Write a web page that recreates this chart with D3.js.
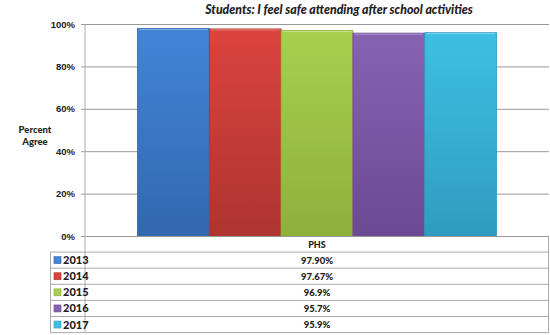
<!DOCTYPE html>
<html>
<head>
<meta charset="utf-8">
<script src="https://cdn.jsdelivr.net/npm/d3@7"></script>
<style>
  body { margin: 0; background: #fff; }
  svg { display: block; font-family: Lato, "Open Sans", sans-serif; }
  .tick text { font-weight: 900; font-size: 9.5px; fill: #222; }
</style>
</head>
<body>
<svg id="chart" width="550" height="335"></svg>
<script>
// Chart data
let category = "PHS";
let years = ["2013", "2014", "2015", "2016", "2017"];
let values = [97.90, 97.67, 96.9, 95.7, 95.9];
let valueLabels = ["97.90%", "97.67%", "96.9%", "95.7%", "95.9%"];
let yTicks = [0, 20, 40, 60, 80, 100];
let topColors = ["#4285d8", "#dc433e", "#a8d04e", "#8762b3", "#3fbfe4"];
let bottomColors = ["#3367ae", "#ad3430", "#8eb03c", "#6c4993", "#2f9cbf"];

// Layout
let width = 550, height = 335;
let margin = { top: 24, right: 1, left: 85 };
let plotBottom = 236;
let tableLeft = 50, rowH = 16.1;

let svg = d3.select("#chart");

let y = d3.scaleLinear().domain([0, 100]).range([plotBottom, margin.top]);
let xBand = d3.scaleBand().domain([category]).range([margin.left, width - margin.right]).paddingInner(0).paddingOuter(0.146);
let x = d3.scaleBand().domain(years).range([xBand(category), xBand(category) + xBand.bandwidth()]);

// Gradients
let defs = svg.append("defs");
years.forEach((yr, i) => {
    let grad = defs.append("linearGradient")
        .attr("id", "g" + yr)
        .attr("x1", 0).attr("y1", 0).attr("x2", 0).attr("y2", 1);
    grad.append("stop").attr("offset", "0%").attr("stop-color", topColors[i]);
    grad.append("stop").attr("offset", "100%").attr("stop-color", bottomColors[i]);
});

// Gridlines + y axis
let yAxis = d3.axisLeft(y)
    .tickValues(yTicks)
    .tickFormat(d => d + "%")
    .tickSize(-(width - margin.right - margin.left))
    .tickPadding(7);
let gy = svg.append("g")
    .attr("transform", `translate(${margin.left},0)`)
    .call(yAxis);
gy.select(".domain").remove();
gy.selectAll(".tick line")
    .attr("x1", -4)
    .attr("stroke", "#9a9a9a")
    .attr("stroke-width", 1);
gy.selectAll(".tick text").attr("x", -10);

// vertical axis line, continues through table
svg.append("line")
    .attr("x1", margin.left).attr("x2", margin.left)
    .attr("y1", margin.top).attr("y2", plotBottom + rowH * 6)
    .attr("stroke", "#aaa");

// Bars
svg.append("g").selectAll("rect")
    .data(years)
    .join("rect")
    .attr("x", d => x(d))
    .attr("y", (d, i) => y(values[i]))
    .attr("width", x.bandwidth())
    .attr("height", (d, i) => plotBottom - y(values[i]))
    .attr("fill", d => `url(#g${d})`)
    .attr("stroke", (d, i) => bottomColors[i])
    .attr("stroke-width", 0.8);

// top highlight on bars
svg.append("g").selectAll("line")
    .data(years)
    .join("line")
    .attr("x1", d => x(d) + 1.5)
    .attr("x2", d => x(d) + x.bandwidth() - 1.5)
    .attr("y1", (d, i) => y(values[i]) + 1)
    .attr("y2", (d, i) => y(values[i]) + 1)
    .attr("stroke", "#fff")
    .attr("stroke-opacity", 0.35);

// Title
svg.append("text")
    .attr("x", 339)
    .attr("y", 14)
    .attr("text-anchor", "middle")
    .attr("font-weight", "900")
    .attr("font-style", "italic")
    .attr("font-size", "12.3px")
    .attr("fill", "#222")
    .text("Students: I feel safe attending after school activities");

// Axis title
svg.append("text")
    .attr("x", 35)
    .attr("text-anchor", "middle")
    .attr("font-weight", "900")
    .attr("font-size", "9.5px")
    .attr("fill", "#222")
    .selectAll("tspan")
    .data(["Percent", "Agree"])
    .join("tspan")
    .attr("x", 35)
    .attr("y", (d, i) => 133 + i * 12)
    .text(d => d);

// Data table
let table = svg.append("g");
let right = width - margin.right;
// header row
table.append("line")
    .attr("x1", margin.left).attr("x2", right)
    .attr("y1", plotBottom + 0.5).attr("y2", plotBottom + 0.5)
    .attr("stroke", "#999");
table.append("text")
    .attr("x", xBand(category) + xBand.bandwidth() / 2)
    .attr("y", plotBottom + 11.5)
    .attr("text-anchor", "middle")
    .attr("font-weight", "900")
    .attr("font-size", "9px")
    .attr("fill", "#222")
    .text(category);

let rows = table.selectAll("g.row")
    .data(years)
    .join("g")
    .attr("class", "row")
    .attr("transform", (d, i) => `translate(0,${plotBottom + rowH * (i + 1)})`);

rows.append("line")
    .attr("x1", tableLeft).attr("x2", right)
    .attr("y1", 0).attr("y2", 0)
    .attr("stroke", "#aaa");

rows.append("rect")
    .attr("x", tableLeft + 4)
    .attr("y", rowH / 2 - 3.5)
    .attr("width", 7).attr("height", 7)
    .attr("fill", (d, i) => topColors[i])
    .attr("stroke", (d, i) => bottomColors[i])
    .attr("stroke-width", 0.6);

rows.append("text")
    .attr("x", tableLeft + 13)
    .attr("y", rowH / 2 + 4)
    .attr("font-weight", "900")
    .attr("font-size", "11px")
    .attr("fill", "#222")
    .text(d => d);

rows.append("text")
    .attr("x", xBand(category) + xBand.bandwidth() / 2)
    .attr("y", rowH / 2 + 3.5)
    .attr("text-anchor", "middle")
    .attr("font-weight", "900")
    .attr("font-size", "9.5px")
    .attr("fill", "#222")
    .text((d, i) => valueLabels[i]);

// table outer border
let tableBottom = plotBottom + rowH * 6;
table.append("line")
    .attr("x1", tableLeft).attr("x2", right)
    .attr("y1", tableBottom).attr("y2", tableBottom)
    .attr("stroke", "#aaa");
table.append("line")
    .attr("x1", tableLeft + 0.5).attr("x2", tableLeft + 0.5)
    .attr("y1", plotBottom + rowH).attr("y2", tableBottom)
    .attr("stroke", "#aaa");
table.append("line")
    .attr("x1", right - 0.5).attr("x2", right - 0.5)
    .attr("y1", plotBottom).attr("y2", tableBottom)
    .attr("stroke", "#aaa");
</script>
</body>
</html>
